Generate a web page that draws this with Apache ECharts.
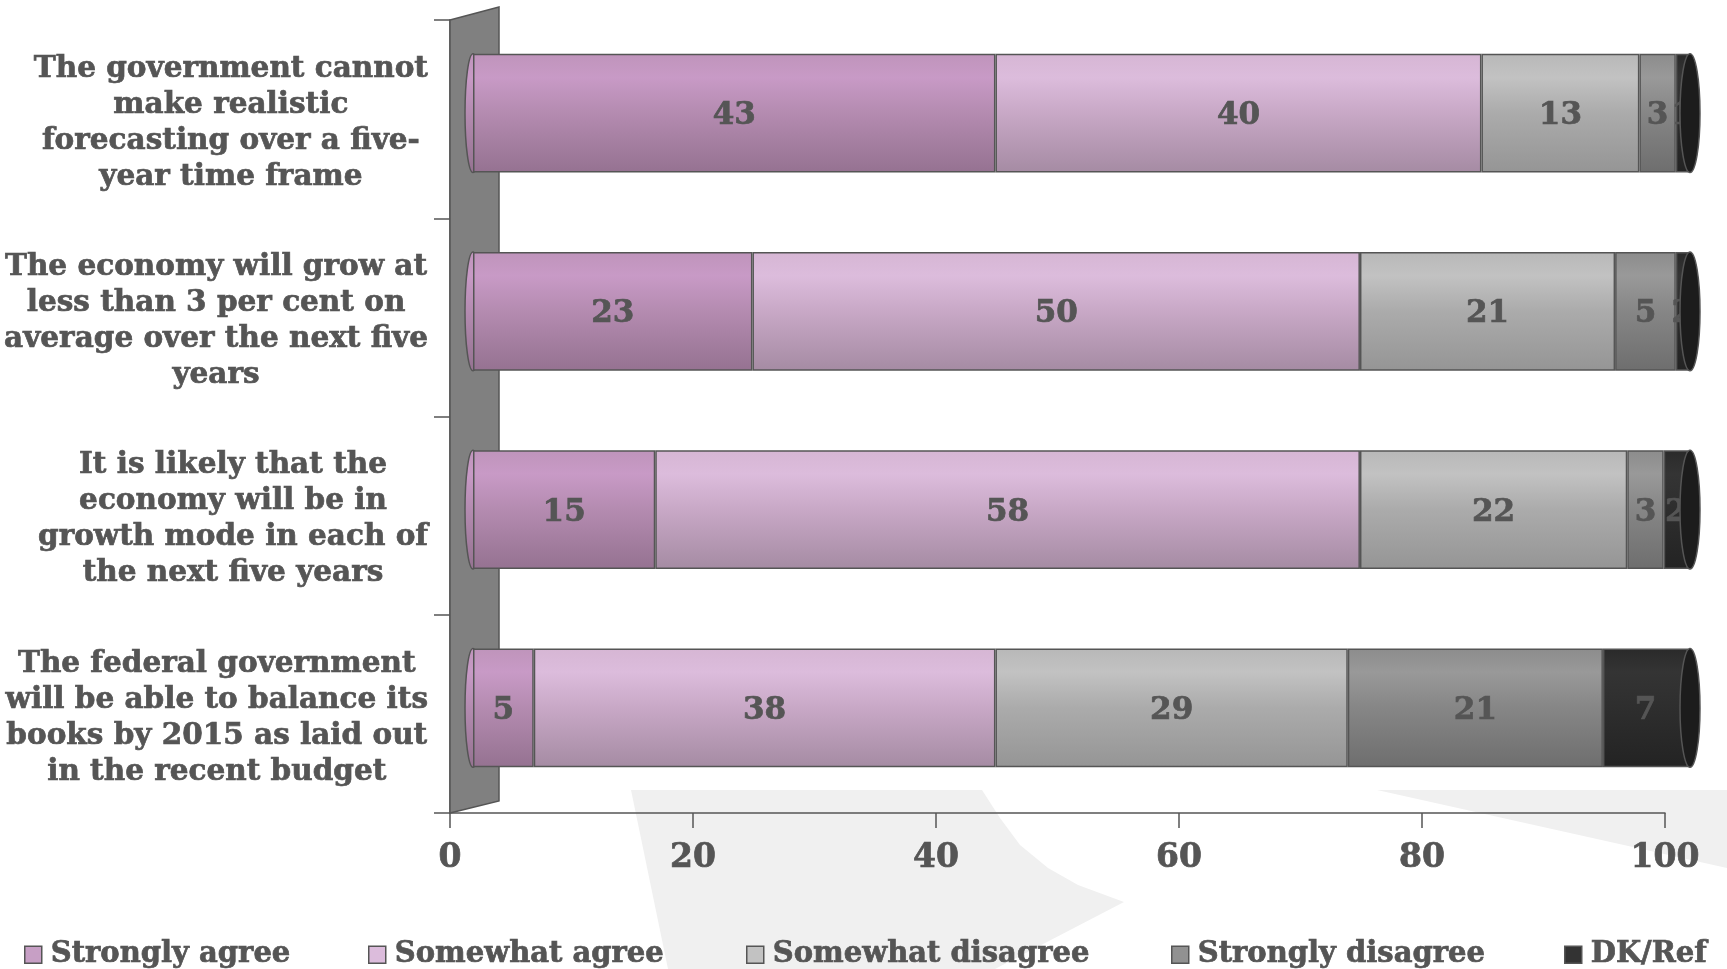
<!DOCTYPE html>
<html><head><meta charset="utf-8">
<script src="https://cdn.jsdelivr.net/npm/echarts@6/dist/echarts.min.js"></script>
<style>html,body{margin:0;padding:0;background:#fff}#c{width:1727px;height:969px}</style>
</head><body><div id="c"></div><script>
const categories = [
  'The government cannot\nmake realistic\nforecasting over a five-\nyear time frame',
  'The economy will grow at\nless than 3 per cent on\naverage over the next five\nyears',
  'It is likely that the\neconomy will be in\ngrowth mode in each of\nthe next five years',
  'The federal government\nwill be able to balance its\nbooks by 2015 as laid out\nin the recent budget'
];
const seriesNames = ['Strongly agree', 'Somewhat agree', 'Somewhat disagree', 'Strongly disagree', 'DK/Ref'];
const stronglyAgree = [43, 23, 15, 5];
const somewhatAgree = [40, 50, 58, 38];
const somewhatDisagree = [13, 21, 22, 29];
const stronglyDisagree = [3, 5, 3, 21];
const dkRef = [1, 2, 2, 7];
const xTicks = [0, 20, 40, 60, 80, 100];

const FONT = 'DejaVu Serif';
const TXT = '#555555';
const values = [stronglyAgree, somewhatAgree, somewhatDisagree, stronglyDisagree, dkRef];
const grad = (stops) => new echarts.graphic.LinearGradient(0, 0, 0, 1, stops.map((c, i) => ({offset: [0, 0.2, 0.5, 1][i], color: c})));
const fills = [
  grad(['#bf94bb', '#c89ac6', '#b48bb0', '#957291']),
  grad(['#d6b6d4', '#dcbcdc', '#c8a8c6', '#a58ba3']),
  grad(['#b8b8b8', '#c2c2c2', '#ababab', '#959595']),
  grad(['#8c8c8c', '#999999', '#868686', '#6e6e6e']),
  grad(['#2a2a2a', '#343434', '#2e2e2e', '#232323'])
];
const legendColors = ['#c79fc5', '#dcbcdc', '#c2c2c2', '#919191', '#333333'];
const legendLefts = [24, 368, 746, 1171, 1564];
const totals = categories.map((c, i) => values.reduce((s, arr) => s + arr[i], 0));

const chart = echarts.init(document.getElementById('c'), null, {renderer: 'canvas'});

const heavy = {fontFamily: FONT, fontWeight: 'bold', color: TXT, textBorderColor: TXT, textBorderWidth: 0.7};

const option = {
  backgroundColor: '#ffffff',
  animation: false,
  grid: [
    {left: 450, right: 62, top: 20, bottom: 156, containLabel: false},
    {left: 473, right: 39, top: 14, bottom: 162, containLabel: false}
  ],
  xAxis: [
    {
      type: 'value', gridIndex: 0, min: xTicks[0], max: xTicks[xTicks.length - 1], interval: 20,
      axisLine: {show: true, lineStyle: {color: TXT, width: 1.5}},
      axisTick: {show: true, length: 15, lineStyle: {color: TXT, width: 1.5}},
      axisLabel: {show: true, margin: 29, fontSize: 33, ...heavy},
      splitLine: {show: false}
    },
    {type: 'value', gridIndex: 1, min: 0, max: 100, show: false, splitLine: {show: false}}
  ],
  yAxis: [
    {
      type: 'category', gridIndex: 0, data: categories, inverse: true,
      axisLine: {show: true, lineStyle: {color: TXT, width: 1.5}},
      axisTick: {show: true, length: 16, lineStyle: {color: TXT, width: 1.5}},
      axisLabel: {
        show: true, margin: 22, align: 'right', interval: 0, padding: [8, 0, 0, 0],
        formatter: (v) => v.split('\n').map(l => '{c|' + l + '}').join('\n'),
        rich: {c: {align: 'center', fontSize: 29.5, lineHeight: 36, ...heavy}}
      }
    },
    {type: 'category', gridIndex: 1, data: categories, inverse: true, show: false}
  ],
  legend: seriesNames.map((n, i) => ({
    left: legendLefts[i], top: 940, padding: 0,
    itemWidth: 17, itemHeight: 17, icon: 'rect',
    itemStyle: {borderColor: TXT, borderWidth: 1.5},
    textStyle: {fontSize: 29, ...heavy, padding: [0, 0, 0, 4]},
    data: [{name: n, itemStyle: {color: legendColors[i], borderColor: TXT, borderWidth: 1.5}}],
    selectedMode: false
  })),
  graphic: [
    {type: 'polygon', z: -10, silent: true,
     shape: {points: [[631, 790], [982, 790], [1000, 818], [1020, 845], [1048, 868], [1078, 885], [1124, 902], [995, 969], [668, 969]]},
     style: {fill: '#f0f0f0'}},
    {type: 'polygon', z: -10, silent: true,
     shape: {points: [[1377, 790], [1727, 790], [1727, 868]]},
     style: {fill: '#f0f0f0'}},
    {type: 'polygon', z: 1, silent: true,
     shape: {points: [[450, 20], [499, 7], [499, 801], [450, 813]]},
     style: {fill: '#808080', stroke: TXT, lineWidth: 1.5}}
  ],
  series: [
    {
      type: 'custom', name: 'leftcap', xAxisIndex: 1, yAxisIndex: 1, z: 2, silent: true,
      data: categories.map((c, i) => [0, i]),
      renderItem: (params, api) => {
        const p = api.coord([api.value(0), api.value(1)]);
        const h = api.size([0, 1])[1] * 0.6;
        return {type: 'ellipse', shape: {cx: p[0], cy: p[1], rx: 8, ry: h / 2},
                style: {fill: fills[0], stroke: TXT, lineWidth: 1.5}};
      }
    },
    ...seriesNames.map((n, k) => ({
      type: 'bar', name: n, stack: 'total', xAxisIndex: 1, yAxisIndex: 1, z: 3,
      barCategoryGap: '40%',
      data: values[k],
      itemStyle: {color: fills[k], borderColor: TXT, borderWidth: 1.5},
      label: {show: true, position: 'inside', offset: [0, 3], formatter: '{c}', fontSize: 31, ...heavy},
      emphasis: {disabled: true}
    })),
    {
      type: 'custom', name: 'rightcap', xAxisIndex: 1, yAxisIndex: 1, z: 4, silent: true,
      data: totals.map((t, i) => [Math.min(t, 100), i]),
      renderItem: (params, api) => {
        const p = api.coord([api.value(0), api.value(1)]);
        const h = api.size([0, 1])[1] * 0.6;
        return {type: 'ellipse', shape: {cx: p[0] + 2, cy: p[1], rx: 10, ry: h / 2},
                style: {fill: '#1c1c1c', stroke: TXT, lineWidth: 1.5}};
      }
    }
  ]
};
chart.setOption(option);
</script></body></html>
